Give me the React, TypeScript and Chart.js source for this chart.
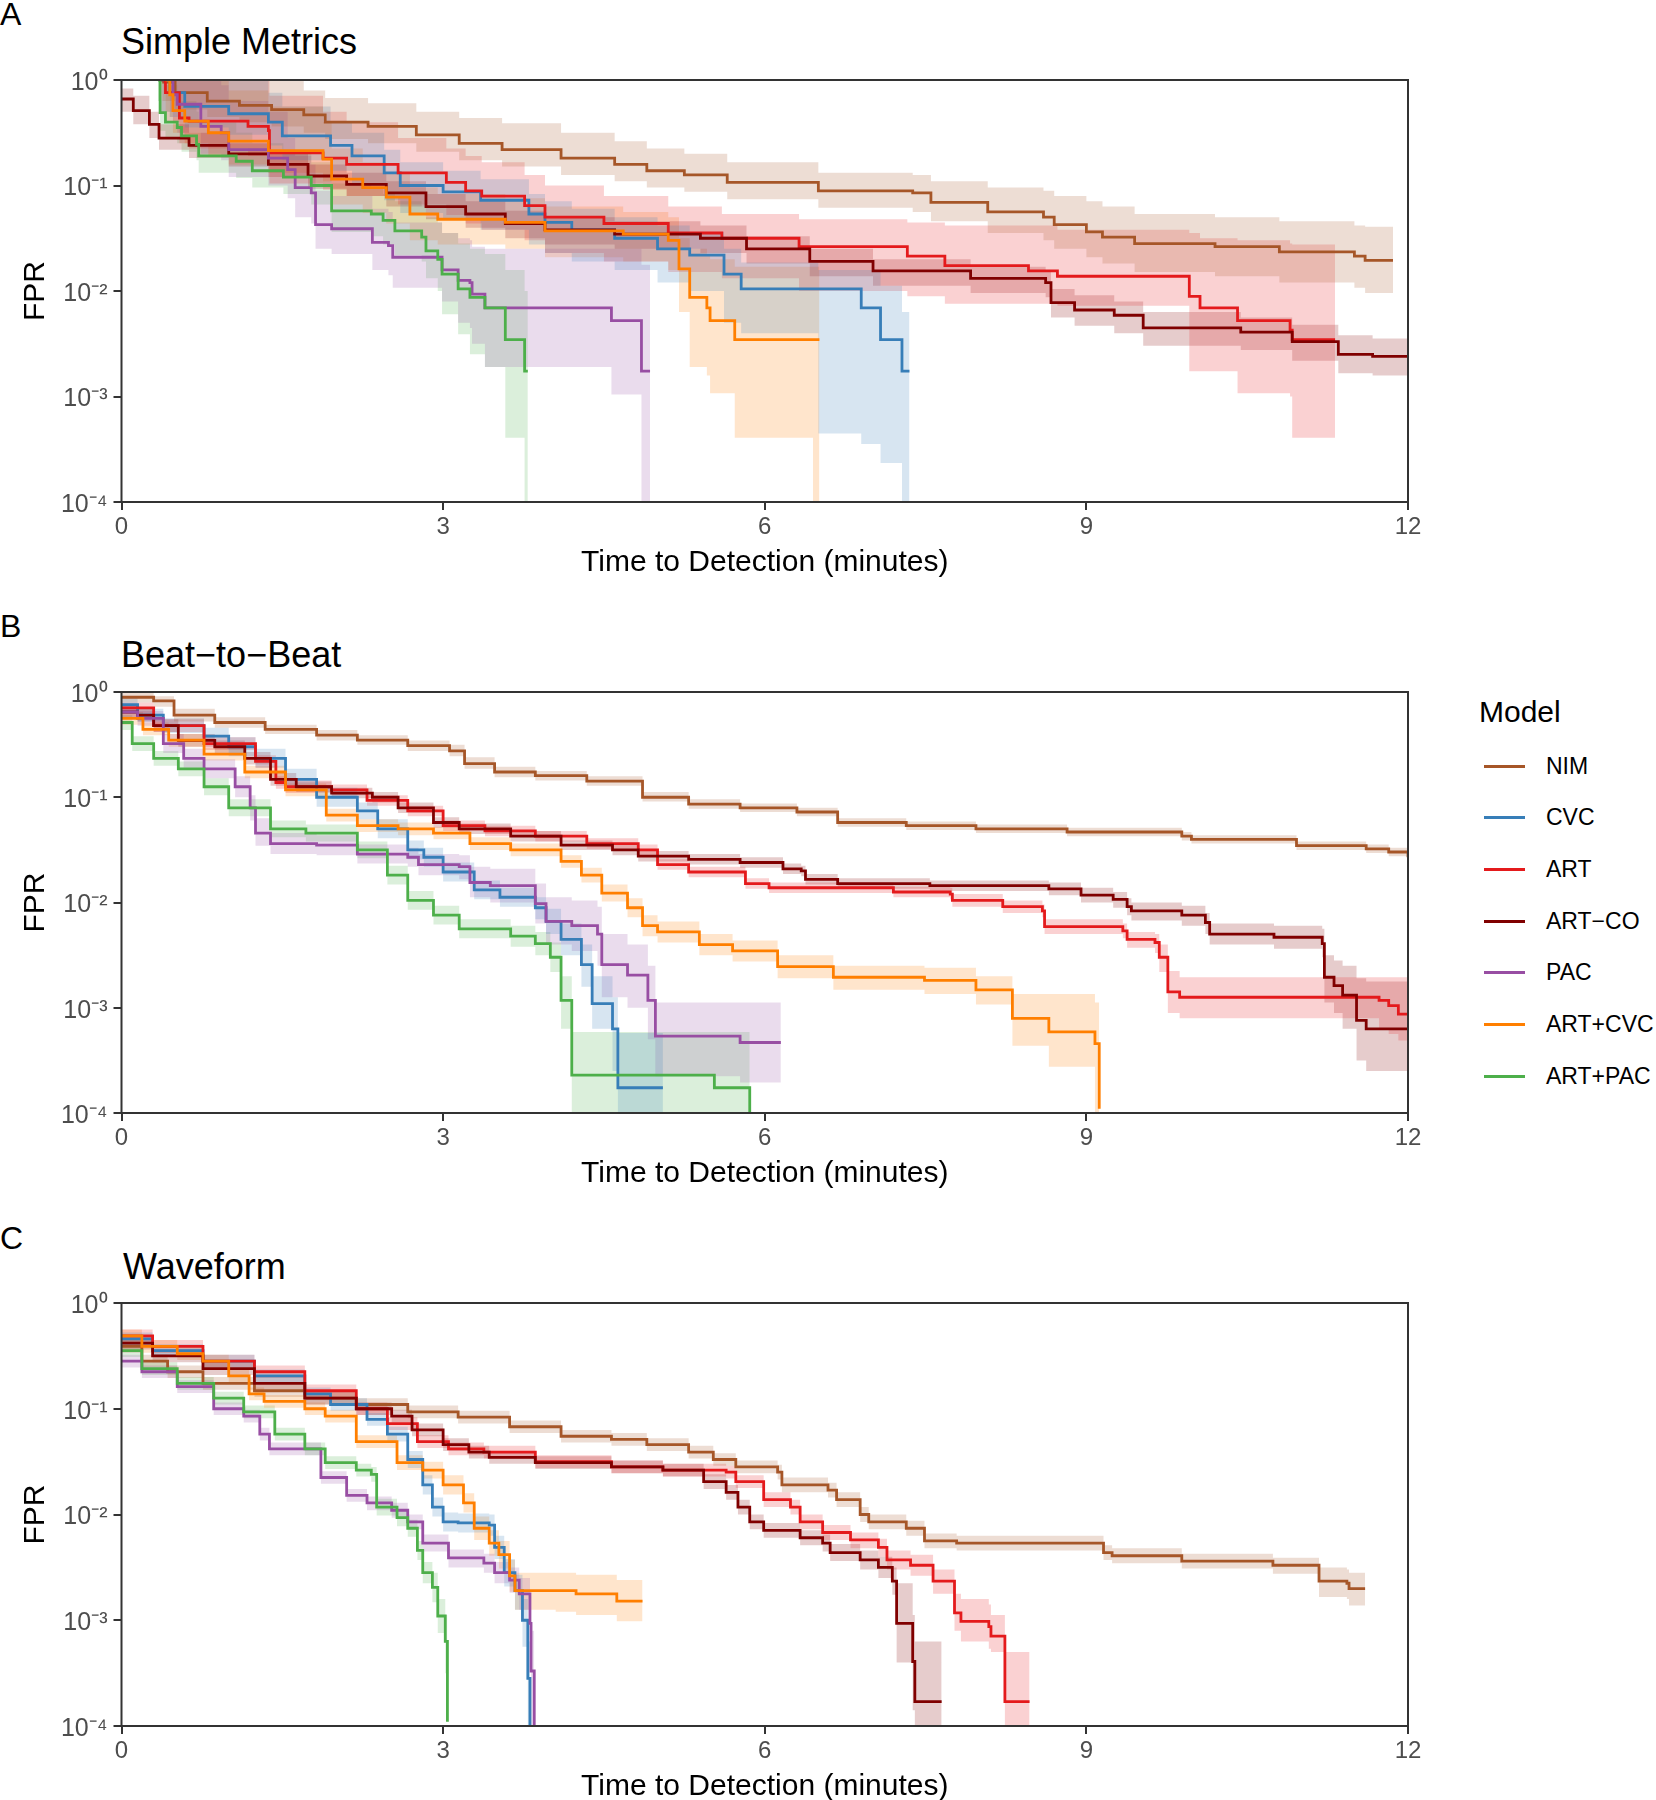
import React, { useEffect, useRef } from 'react';
import { Chart, registerables } from 'chart.js';

Chart.register(...registerables);

const FONT = "'Liberation Sans', Arial, Helvetica, sans-serif";

// Models (legend order) and colours
const MODELS = ['NIM', 'CVC', 'ART', 'ART\u2212CO', 'PAC', 'ART+CVC', 'ART+PAC'];
const COLORS = ['#A65628', '#377EB8', '#E41A1C', '#800000', '#984EA3', '#FF7F00', '#4DAF4A'];

// Axis ticks
const X_TICKS = [0, 3, 6, 9, 12];
const Y_TICKS = [1e-4, 1e-3, 1e-2, 1e-1, 1];
const Y_TICK_LABELS = ['10\u207B\u2074', '10\u207B\u00B3', '10\u207B\u00B2', '10\u207B\u00B9', '10\u2070'];

// Each row: [time (min), log10 FPR, log10 upper CI, log10 lower CI]
type Row = [number, number, number, number];

// ---------- Panel A : Simple Metrics ----------
const A_NIM: Row[] = [[0.38,-0.02,0,-0.2],[0.5,-0.12,0,-0.28],[0.8,-0.2,0,-0.35],[1.1,-0.24,0,-0.4],[1.4,-0.28,0,-0.44],[1.7,-0.33,-0.1,-0.5],[1.9,-0.4,-0.17,-0.56],[2.3,-0.44,-0.22,-0.6],[2.75,-0.52,-0.3,-0.68],[3.15,-0.6,-0.36,-0.76],[3.55,-0.66,-0.41,-0.82],[4.1,-0.74,-0.5,-0.9],[4.6,-0.8,-0.58,-0.96],[4.9,-0.86,-0.65,-1.02],[5.25,-0.9,-0.7,-1.06],[5.65,-0.97,-0.78,-1.13],[6.5,-1.05,-0.88,-1.21],[7.38,-1.07,-0.9,-1.25],[7.55,-1.16,-0.96,-1.34],[8.08,-1.25,-1.02,-1.45],[8.6,-1.3,-1.05,-1.52],[8.7,-1.37,-1.1,-1.6],[9.0,-1.44,-1.15,-1.68],[9.15,-1.49,-1.2,-1.74],[9.45,-1.55,-1.27,-1.82],[10.2,-1.58,-1.3,-1.86],[10.8,-1.63,-1.34,-1.92],[11.5,-1.67,-1.38,-1.97],[11.6,-1.71,-1.39,-2.02],[11.86,-1.71,-1.39,-2.02]];
const A_CVC: Row[] = [[0.37,0,0,-0.3],[0.45,-0.12,0,-0.35],[0.59,-0.25,0,-0.45],[1.0,-0.32,0,-0.52],[1.37,-0.4,-0.12,-0.62],[1.5,-0.53,-0.25,-0.76],[1.95,-0.62,-0.4,-0.86],[2.15,-0.72,-0.5,-0.98],[2.45,-0.88,-0.66,-1.14],[2.6,-1.0,-0.78,-1.26],[3.0,-1.06,-0.86,-1.32],[3.35,-1.14,-0.94,-1.42],[3.8,-1.27,-1.08,-1.56],[3.95,-1.35,-1.15,-1.64],[4.2,-1.42,-1.22,-1.72],[4.6,-1.5,-1.3,-1.8],[5.0,-1.6,-1.38,-1.92],[5.3,-1.66,-1.44,-2.0],[5.62,-1.84,-1.6,-2.3],[5.78,-1.98,-1.73,-2.4],[6.5,-1.98,-1.8,-3.35],[6.9,-2.16,-1.8,-3.45],[7.08,-2.46,-1.95,-3.63],[7.28,-2.76,-2.2,-4.5],[7.35,-2.76,-2.2,-4.5]];
const A_ART: Row[] = [[0.37,0,0,-0.3],[0.41,-0.12,0,-0.4],[0.54,-0.36,0,-0.6],[0.63,-0.39,0,-0.65],[1.18,-0.44,0,-0.72],[1.37,-0.48,0,-0.76],[1.38,-0.69,-0.15,-0.98],[1.88,-0.74,-0.3,-1.04],[2.1,-0.8,-0.4,-1.1],[2.58,-0.88,-0.55,-1.18],[3.03,-0.97,-0.65,-1.28],[3.21,-1.05,-0.72,-1.36],[3.36,-1.1,-0.78,-1.42],[3.76,-1.19,-0.9,-1.52],[3.95,-1.3,-1.0,-1.64],[4.5,-1.36,-1.1,-1.72],[5.1,-1.45,-1.2,-1.82],[5.6,-1.5,-1.27,-1.88],[6.32,-1.58,-1.32,-2.0],[7.33,-1.67,-1.35,-2.05],[7.68,-1.76,-1.38,-2.12],[8.46,-1.81,-1.38,-2.12],[8.73,-1.86,-1.42,-2.14],[9.96,-2.05,-1.45,-2.76],[10.06,-2.16,-1.5,-2.76],[10.41,-2.28,-1.52,-2.97],[10.9,-2.37,-1.55,-3.0],[10.92,-2.46,-1.56,-3.39],[11.32,-2.46,-1.56,-3.39]];
const A_ARTCO: Row[] = [[0,-0.18,-0.08,-0.3],[0.11,-0.29,-0.15,-0.42],[0.26,-0.42,-0.3,-0.55],[0.35,-0.55,-0.42,-0.66],[0.63,-0.62,-0.5,-0.74],[1.0,-0.7,-0.6,-0.82],[1.37,-0.8,-0.7,-0.92],[1.74,-0.91,-0.8,-1.03],[2.1,-0.99,-0.88,-1.1],[2.47,-1.07,-0.96,-1.2],[2.84,-1.2,-1.08,-1.32],[3.21,-1.27,-1.15,-1.4],[3.58,-1.36,-1.24,-1.5],[3.95,-1.42,-1.3,-1.56],[4.6,-1.46,-1.34,-1.6],[5.4,-1.5,-1.38,-1.64],[5.83,-1.6,-1.48,-1.74],[6.42,-1.72,-1.6,-1.86],[7.01,-1.81,-1.7,-1.95],[7.92,-1.88,-1.77,-2.02],[8.62,-1.92,-1.8,-2.06],[8.67,-2.11,-1.98,-2.25],[8.89,-2.18,-2.04,-2.33],[9.26,-2.23,-2.1,-2.4],[9.53,-2.35,-2.2,-2.52],[10.44,-2.39,-2.25,-2.56],[10.92,-2.48,-2.32,-2.66],[11.35,-2.6,-2.42,-2.78],[11.67,-2.62,-2.45,-2.8],[12,-2.62,-2.45,-2.8]];
const A_PAC: Row[] = [[0.45,0,0,-0.3],[0.48,-0.14,0,-0.4],[0.52,-0.23,0,-0.5],[0.74,-0.44,0,-0.7],[0.93,-0.5,-0.05,-0.76],[1.0,-0.66,-0.2,-0.92],[1.37,-0.74,-0.3,-1.0],[1.55,-0.85,-0.55,-1.12],[1.62,-1.02,-0.72,-1.3],[1.77,-1.07,-0.8,-1.36],[1.81,-1.37,-1.05,-1.6],[1.96,-1.41,-1.1,-1.65],[2.34,-1.54,-1.22,-1.8],[2.49,-1.57,-1.25,-1.85],[2.53,-1.68,-1.35,-1.97],[2.99,-1.8,-1.45,-2.1],[3.14,-1.9,-1.5,-2.3],[3.25,-1.92,-1.52,-2.35],[3.27,-2.03,-1.58,-2.5],[3.39,-2.16,-1.6,-2.72],[4.57,-2.28,-1.6,-2.98],[4.85,-2.76,-1.75,-4.5],[4.93,-2.76,-1.75,-4.5]];
const A_ARTCVC: Row[] = [[0.41,0,0,-0.3],[0.45,-0.14,0,-0.35],[0.48,-0.29,0,-0.5],[0.59,-0.39,0,-0.6],[0.81,-0.5,0,-0.72],[1.0,-0.58,-0.1,-0.8],[1.37,-0.67,-0.25,-0.88],[1.88,-0.75,-0.4,-0.96],[1.96,-0.94,-0.65,-1.18],[2.25,-1.02,-0.78,-1.26],[2.47,-1.11,-0.88,-1.36],[2.69,-1.27,-1.02,-1.52],[2.95,-1.32,-1.08,-1.56],[3.58,-1.35,-1.12,-1.6],[3.95,-1.43,-1.2,-1.68],[4.68,-1.46,-1.25,-1.72],[5.1,-1.52,-1.3,-1.8],[5.2,-1.79,-1.5,-2.2],[5.3,-2.06,-1.6,-2.72],[5.46,-2.16,-1.65,-2.8],[5.49,-2.28,-1.7,-2.97],[5.72,-2.46,-1.77,-3.39],[6.45,-2.46,-1.77,-4.5],[6.51,-2.46,-1.77,-4.5]];
const A_ARTPAC: Row[] = [[0.34,0,0,-0.2],[0.36,-0.31,0,-0.48],[0.41,-0.4,-0.05,-0.56],[0.52,-0.45,-0.12,-0.6],[0.56,-0.53,-0.2,-0.68],[0.7,-0.61,-0.3,-0.76],[0.72,-0.72,-0.4,-0.88],[1.07,-0.77,-0.5,-0.93],[1.22,-0.86,-0.6,-1.02],[1.51,-0.92,-0.68,-1.08],[1.77,-1.0,-0.78,-1.18],[1.96,-1.24,-0.98,-1.44],[2.33,-1.27,-1.02,-1.48],[2.44,-1.33,-1.08,-1.56],[2.55,-1.43,-1.15,-1.66],[2.8,-1.49,-1.2,-1.72],[2.84,-1.62,-1.3,-1.88],[2.95,-1.7,-1.35,-2.0],[2.99,-1.84,-1.45,-2.22],[3.14,-1.98,-1.55,-2.41],[3.25,-2.06,-1.6,-2.6],[3.39,-2.16,-1.65,-2.72],[3.58,-2.46,-1.8,-3.39],[3.76,-2.76,-2.0,-4.5],[3.79,-2.76,-2.0,-4.5]];

// ---------- Panel B : Beat-to-Beat ----------
const B_NIM: Row[] = [[0,-0.05,-0.01,-0.1],[0.3,-0.085,-0.04,-0.14],[0.49,-0.22,-0.16,-0.28],[0.87,-0.29,-0.24,-0.34],[1.34,-0.355,-0.31,-0.4],[1.82,-0.41,-0.36,-0.46],[2.2,-0.457,-0.41,-0.5],[2.67,-0.51,-0.46,-0.56],[3.06,-0.56,-0.5,-0.61],[3.2,-0.68,-0.62,-0.73],[3.48,-0.76,-0.71,-0.81],[3.86,-0.795,-0.75,-0.84],[4.34,-0.846,-0.8,-0.89],[4.86,-1.0,-0.95,-1.04],[5.29,-1.066,-1.02,-1.11],[5.77,-1.1,-1.06,-1.14],[6.3,-1.14,-1.1,-1.18],[6.68,-1.24,-1.2,-1.28],[7.32,-1.27,-1.23,-1.31],[7.97,-1.3,-1.26,-1.34],[8.82,-1.33,-1.29,-1.37],[9.89,-1.37,-1.33,-1.41],[9.98,-1.4,-1.36,-1.44],[10.96,-1.46,-1.42,-1.5],[11.61,-1.49,-1.45,-1.53],[11.82,-1.52,-1.48,-1.56],[12,-1.57,-1.53,-1.61]];
const B_CVC: Row[] = [[0,-0.12,-0.06,-0.18],[0.15,-0.22,-0.16,-0.28],[0.39,-0.32,-0.25,-0.39],[0.77,-0.42,-0.34,-0.5],[1.0,-0.52,-0.43,-0.61],[1.25,-0.63,-0.54,-0.72],[1.53,-0.83,-0.73,-0.93],[1.82,-1.0,-0.91,-1.09],[2.2,-1.13,-1.05,-1.21],[2.39,-1.3,-1.21,-1.39],[2.67,-1.5,-1.41,-1.59],[2.82,-1.57,-1.48,-1.66],[3.0,-1.71,-1.62,-1.8],[3.29,-1.88,-1.79,-1.97],[3.53,-1.95,-1.86,-2.04],[3.86,-2.05,-1.95,-2.16],[3.96,-2.18,-2.06,-2.3],[4.1,-2.35,-2.2,-2.5],[4.29,-2.59,-2.4,-2.8],[4.39,-2.96,-2.7,-3.2],[4.58,-3.2,-2.9,-3.6],[4.63,-3.76,-3.24,-4.5],[5.05,-3.76,-3.24,-4.5]];
const B_ART: Row[] = [[0,-0.15,-0.1,-0.2],[0.3,-0.32,-0.26,-0.38],[0.77,-0.49,-0.43,-0.55],[1.25,-0.66,-0.6,-0.72],[1.44,-0.86,-0.8,-0.92],[1.53,-0.9,-0.84,-0.96],[1.96,-0.93,-0.88,-0.98],[2.29,-1.03,-0.98,-1.08],[2.67,-1.13,-1.08,-1.18],[3.0,-1.27,-1.22,-1.32],[3.39,-1.32,-1.27,-1.37],[3.86,-1.37,-1.32,-1.42],[4.34,-1.44,-1.39,-1.49],[4.82,-1.5,-1.45,-1.55],[5.0,-1.64,-1.59,-1.69],[5.29,-1.71,-1.66,-1.76],[5.82,-1.82,-1.77,-1.87],[6.04,-1.86,-1.81,-1.91],[7.2,-1.9,-1.85,-1.95],[7.73,-1.92,-1.86,-1.97],[7.75,-1.98,-1.92,-2.04],[8.22,-2.04,-1.98,-2.1],[8.59,-2.08,-2.02,-2.14],[8.61,-2.23,-2.16,-2.3],[9.34,-2.27,-2.2,-2.34],[9.38,-2.35,-2.28,-2.43],[9.64,-2.38,-2.3,-2.48],[9.68,-2.52,-2.4,-2.66],[9.76,-2.85,-2.65,-3.05],[9.87,-2.9,-2.71,-3.1],[11.73,-2.93,-2.71,-3.2],[11.82,-2.98,-2.71,-3.25],[11.91,-3.06,-2.71,-3.31],[12,-3.06,-2.71,-3.31]];
const B_ARTCO: Row[] = [[0,-0.19,-0.13,-0.25],[0.15,-0.22,-0.16,-0.28],[0.3,-0.32,-0.26,-0.38],[0.53,-0.46,-0.4,-0.52],[0.87,-0.52,-0.46,-0.58],[1.15,-0.63,-0.57,-0.69],[1.39,-0.83,-0.77,-0.89],[1.63,-0.9,-0.85,-0.95],[1.96,-0.96,-0.91,-1.01],[2.34,-1.0,-0.95,-1.05],[2.58,-1.1,-1.05,-1.15],[2.91,-1.24,-1.19,-1.29],[3.15,-1.3,-1.25,-1.35],[3.63,-1.37,-1.32,-1.42],[4.1,-1.455,-1.41,-1.5],[4.58,-1.5,-1.45,-1.55],[4.82,-1.56,-1.51,-1.61],[5.29,-1.59,-1.54,-1.64],[5.77,-1.62,-1.57,-1.67],[6.17,-1.68,-1.63,-1.73],[6.34,-1.7,-1.65,-1.75],[6.38,-1.78,-1.73,-1.83],[6.68,-1.82,-1.77,-1.87],[7.54,-1.84,-1.79,-1.89],[8.65,-1.87,-1.81,-1.93],[8.95,-1.93,-1.86,-2.0],[9.25,-1.97,-1.9,-2.05],[9.38,-2.04,-1.96,-2.12],[9.42,-2.08,-2.0,-2.17],[9.89,-2.12,-2.03,-2.22],[10.11,-2.19,-2.1,-2.3],[10.15,-2.3,-2.2,-2.4],[10.75,-2.33,-2.22,-2.44],[11.2,-2.39,-2.25,-2.52],[11.22,-2.71,-2.5,-2.95],[11.31,-2.79,-2.55,-3.05],[11.39,-2.88,-2.6,-3.2],[11.52,-3.12,-2.72,-3.5],[11.61,-3.2,-2.75,-3.6],[12,-3.2,-2.75,-3.6]];
const B_PAC: Row[] = [[0,-0.19,-0.13,-0.25],[0.15,-0.25,-0.18,-0.32],[0.39,-0.49,-0.4,-0.58],[0.58,-0.63,-0.54,-0.72],[0.77,-0.73,-0.64,-0.82],[1.06,-0.9,-0.8,-1.0],[1.2,-1.1,-0.98,-1.22],[1.25,-1.34,-1.2,-1.46],[1.39,-1.44,-1.34,-1.54],[1.82,-1.455,-1.36,-1.55],[2.2,-1.54,-1.45,-1.63],[2.67,-1.57,-1.48,-1.66],[2.77,-1.64,-1.54,-1.74],[3.15,-1.66,-1.55,-1.78],[3.25,-1.81,-1.66,-1.95],[3.44,-1.84,-1.68,-2.0],[3.86,-2.01,-1.82,-2.2],[3.96,-2.18,-1.95,-2.4],[4.2,-2.22,-1.98,-2.46],[4.44,-2.3,-2.04,-2.6],[4.48,-2.59,-2.3,-2.9],[4.72,-2.69,-2.4,-3.0],[4.91,-2.93,-2.6,-3.3],[4.98,-3.27,-2.95,-3.65],[5.77,-3.33,-2.95,-3.71],[6.15,-3.33,-2.95,-3.71]];
const B_ARTCVC: Row[] = [[0,-0.25,-0.19,-0.31],[0.2,-0.355,-0.29,-0.41],[0.44,-0.457,-0.4,-0.52],[0.77,-0.59,-0.53,-0.65],[1.15,-0.76,-0.7,-0.82],[1.53,-0.93,-0.87,-0.99],[1.91,-1.17,-1.11,-1.23],[2.2,-1.27,-1.21,-1.33],[2.58,-1.3,-1.24,-1.36],[2.91,-1.34,-1.28,-1.4],[3.25,-1.44,-1.38,-1.5],[3.63,-1.5,-1.44,-1.56],[4.1,-1.61,-1.55,-1.67],[4.29,-1.74,-1.67,-1.81],[4.48,-1.91,-1.83,-1.99],[4.72,-2.05,-1.96,-2.14],[4.86,-2.22,-2.12,-2.32],[5.0,-2.28,-2.18,-2.38],[5.39,-2.4,-2.3,-2.5],[5.7,-2.46,-2.36,-2.56],[6.12,-2.61,-2.5,-2.72],[6.64,-2.71,-2.6,-2.83],[7.49,-2.74,-2.62,-2.87],[7.97,-2.83,-2.7,-2.97],[8.31,-3.1,-2.87,-3.36],[8.65,-3.23,-2.87,-3.56],[9.08,-3.34,-2.95,-4.5],[9.12,-3.96,-3.0,-4.5]];
const B_ARTPAC: Row[] = [[0,-0.29,-0.22,-0.36],[0.1,-0.49,-0.42,-0.56],[0.3,-0.63,-0.56,-0.7],[0.53,-0.73,-0.66,-0.8],[0.77,-0.9,-0.82,-0.98],[1.0,-1.1,-1.02,-1.18],[1.39,-1.3,-1.22,-1.38],[1.72,-1.34,-1.26,-1.42],[2.2,-1.5,-1.42,-1.58],[2.48,-1.74,-1.65,-1.83],[2.67,-1.98,-1.89,-2.07],[2.91,-2.12,-2.03,-2.21],[3.15,-2.25,-2.16,-2.34],[3.63,-2.32,-2.22,-2.42],[3.86,-2.39,-2.28,-2.5],[4.0,-2.52,-2.38,-2.66],[4.1,-2.93,-2.7,-3.2],[4.2,-3.64,-3.23,-4.5],[5.53,-3.76,-3.23,-4.5],[5.82,-3.76,-3.23,-4.5],[5.86,-4.5,-4.5,-4.5]];

// ---------- Panel C : Waveform ----------
const C_NIM: Row[] = [[0,-0.41,-0.35,-0.47],[0.19,-0.55,-0.49,-0.61],[0.43,-0.65,-0.59,-0.71],[0.76,-0.76,-0.7,-0.82],[1.24,-0.83,-0.77,-0.89],[1.71,-0.9,-0.84,-0.96],[2.19,-0.96,-0.9,-1.02],[2.67,-1.03,-0.97,-1.09],[3.14,-1.08,-1.02,-1.14],[3.62,-1.17,-1.11,-1.23],[4.1,-1.26,-1.2,-1.32],[4.57,-1.29,-1.23,-1.35],[4.9,-1.34,-1.28,-1.4],[5.29,-1.41,-1.35,-1.47],[5.52,-1.48,-1.42,-1.54],[5.73,-1.55,-1.49,-1.61],[6.12,-1.6,-1.53,-1.67],[6.16,-1.72,-1.65,-1.79],[6.59,-1.77,-1.7,-1.84],[6.67,-1.86,-1.79,-1.93],[6.89,-2.0,-1.93,-2.07],[6.97,-2.07,-2.0,-2.14],[7.32,-2.13,-2.06,-2.2],[7.49,-2.25,-2.18,-2.32],[7.79,-2.27,-2.2,-2.34],[9.03,-2.27,-2.2,-2.34],[9.16,-2.36,-2.29,-2.43],[9.24,-2.39,-2.32,-2.46],[9.89,-2.44,-2.37,-2.51],[10.74,-2.48,-2.41,-2.56],[11.17,-2.63,-2.5,-2.78],[11.43,-2.65,-2.52,-2.8],[11.45,-2.7,-2.55,-2.86],[11.6,-2.7,-2.55,-2.86]];
const C_CVC: Row[] = [[0,-0.34,-0.28,-0.4],[0.29,-0.45,-0.39,-0.51],[0.76,-0.55,-0.49,-0.61],[1.24,-0.69,-0.63,-0.75],[1.71,-0.86,-0.8,-0.92],[1.95,-0.96,-0.9,-1.02],[2.29,-1.1,-1.04,-1.16],[2.48,-1.24,-1.17,-1.31],[2.67,-1.48,-1.4,-1.56],[2.81,-1.72,-1.63,-1.81],[2.9,-1.93,-1.84,-2.02],[3.0,-2.07,-1.98,-2.16],[3.14,-2.08,-1.99,-2.17],[3.43,-2.1,-2.0,-2.2],[3.48,-2.31,-2.2,-2.42],[3.57,-2.55,-2.42,-2.68],[3.67,-2.72,-2.57,-2.9],[3.74,-3.0,-2.8,-3.25],[3.79,-3.55,-3.2,-4.5],[3.81,-4.5,-3.3,-4.5]];
const C_ART: Row[] = [[0,-0.31,-0.25,-0.37],[0.29,-0.41,-0.35,-0.47],[0.76,-0.55,-0.49,-0.61],[1.24,-0.65,-0.59,-0.71],[1.71,-0.83,-0.77,-0.89],[2.19,-1.0,-0.94,-1.06],[2.48,-1.14,-1.08,-1.2],[2.76,-1.31,-1.25,-1.37],[3.05,-1.38,-1.32,-1.44],[3.38,-1.41,-1.35,-1.47],[3.86,-1.5,-1.44,-1.56],[4.57,-1.55,-1.49,-1.61],[5.05,-1.58,-1.52,-1.64],[5.64,-1.6,-1.54,-1.66],[5.73,-1.69,-1.63,-1.75],[5.99,-1.86,-1.79,-1.93],[6.24,-1.93,-1.86,-2.0],[6.33,-2.07,-2.0,-2.14],[6.54,-2.17,-2.1,-2.24],[6.8,-2.24,-2.17,-2.32],[7.06,-2.31,-2.23,-2.4],[7.14,-2.43,-2.34,-2.52],[7.36,-2.48,-2.38,-2.58],[7.57,-2.63,-2.52,-2.75],[7.77,-2.93,-2.75,-3.1],[7.83,-3.01,-2.8,-3.2],[8.09,-3.06,-2.85,-3.27],[8.11,-3.15,-2.95,-3.3],[8.24,-3.77,-3.3,-4.5],[8.47,-3.77,-3.3,-4.5]];
const C_ARTCO: Row[] = [[0,-0.38,-0.32,-0.44],[0.29,-0.5,-0.44,-0.56],[0.76,-0.62,-0.56,-0.68],[1.24,-0.76,-0.7,-0.82],[1.71,-0.9,-0.84,-0.96],[2.19,-1.0,-0.94,-1.06],[2.52,-1.07,-1.01,-1.13],[2.71,-1.2,-1.14,-1.26],[3.0,-1.34,-1.28,-1.4],[3.24,-1.41,-1.35,-1.47],[3.43,-1.46,-1.4,-1.52],[3.86,-1.51,-1.45,-1.57],[4.57,-1.55,-1.49,-1.61],[5.05,-1.58,-1.52,-1.64],[5.43,-1.69,-1.62,-1.76],[5.64,-1.79,-1.72,-1.86],[5.75,-1.93,-1.86,-2.0],[5.86,-2.07,-2.0,-2.14],[5.99,-2.15,-2.08,-2.22],[6.33,-2.22,-2.15,-2.29],[6.54,-2.27,-2.19,-2.35],[6.61,-2.36,-2.28,-2.44],[6.89,-2.43,-2.34,-2.52],[7.06,-2.5,-2.4,-2.6],[7.19,-2.63,-2.5,-2.76],[7.23,-3.03,-2.65,-3.4],[7.38,-3.39,-2.95,-3.85],[7.4,-3.77,-3.2,-4.5],[7.65,-3.77,-3.2,-4.5]];
const C_PAC: Row[] = [[0,-0.55,-0.49,-0.61],[0.19,-0.65,-0.59,-0.71],[0.52,-0.79,-0.73,-0.85],[0.86,-1.0,-0.94,-1.06],[1.14,-1.07,-1.01,-1.13],[1.29,-1.24,-1.18,-1.3],[1.38,-1.38,-1.32,-1.44],[1.67,-1.38,-1.32,-1.44],[1.86,-1.65,-1.59,-1.71],[2.1,-1.82,-1.76,-1.88],[2.29,-1.89,-1.83,-1.96],[2.52,-1.96,-1.89,-2.03],[2.67,-2.07,-2.0,-2.14],[2.81,-2.27,-2.19,-2.35],[3.05,-2.41,-2.33,-2.5],[3.38,-2.46,-2.37,-2.55],[3.48,-2.55,-2.45,-2.65],[3.62,-2.62,-2.5,-2.74],[3.71,-2.75,-2.6,-2.9],[3.81,-3.03,-2.8,-3.3],[3.82,-3.48,-3.1,-4.5],[3.85,-4.5,-3.3,-4.5]];
const C_ARTCVC: Row[] = [[0,-0.31,-0.25,-0.37],[0.19,-0.41,-0.35,-0.47],[0.52,-0.48,-0.42,-0.54],[0.76,-0.55,-0.49,-0.61],[1.0,-0.69,-0.63,-0.75],[1.19,-0.86,-0.8,-0.92],[1.33,-0.93,-0.87,-0.99],[1.71,-1.0,-0.94,-1.06],[1.9,-1.07,-1.01,-1.13],[2.19,-1.31,-1.25,-1.37],[2.57,-1.51,-1.44,-1.58],[2.81,-1.58,-1.5,-1.66],[3.0,-1.72,-1.63,-1.81],[3.19,-1.89,-1.8,-1.98],[3.29,-2.13,-2.02,-2.24],[3.43,-2.27,-2.15,-2.39],[3.52,-2.38,-2.25,-2.51],[3.62,-2.58,-2.43,-2.73],[3.67,-2.72,-2.55,-2.9],[4.05,-2.72,-2.55,-2.92],[4.24,-2.75,-2.57,-2.95],[4.62,-2.82,-2.62,-3.01],[4.86,-2.82,-2.62,-3.01]];
const C_ARTPAC: Row[] = [[0,-0.45,-0.39,-0.51],[0.19,-0.62,-0.56,-0.68],[0.52,-0.76,-0.7,-0.82],[0.86,-0.9,-0.84,-0.96],[1.14,-1.03,-0.97,-1.09],[1.43,-1.24,-1.18,-1.3],[1.71,-1.38,-1.32,-1.44],[1.9,-1.51,-1.45,-1.57],[2.19,-1.58,-1.52,-1.64],[2.33,-1.62,-1.55,-1.69],[2.38,-1.93,-1.85,-2.01],[2.57,-2.03,-1.95,-2.11],[2.67,-2.13,-2.05,-2.21],[2.76,-2.34,-2.25,-2.43],[2.81,-2.55,-2.45,-2.65],[2.9,-2.69,-2.55,-2.83],[2.95,-2.96,-2.8,-3.12],[3.02,-3.2,-2.95,-3.5],[3.04,-3.96,-3.5,-4.5]];

const PANEL_A = [A_NIM, A_CVC, A_ART, A_ARTCO, A_PAC, A_ARTCVC, A_ARTPAC];
const PANEL_B = [B_NIM, B_CVC, B_ART, B_ARTCO, B_PAC, B_ARTCVC, B_ARTPAC];
const PANEL_C = [C_NIM, C_CVC, C_ART, C_ARTCO, C_PAC, C_ARTCVC, C_ARTPAC];

const X_TITLE = 'Time to Detection (minutes)';
const Y_TITLE = 'FPR';

function rgba(hex: string, a: number) {
  const n = parseInt(hex.slice(1), 16);
  return `rgba(${(n >> 16) & 255},${(n >> 8) & 255},${n & 255},${a})`;
}

function pts(rows: Row[], k: number) {
  return rows.map((r) => ({ x: r[0], y: Math.pow(10, r[k]) }));
}

const framePlugin = {
  id: 'frame',
  afterDraw(chart: any) {
    const { ctx, chartArea } = chart;
    const { left, top, right, bottom } = chartArea;
    ctx.save();
    ctx.strokeStyle = '#333333';
    ctx.lineWidth = 2;
    ctx.strokeRect(left, top, right - left, bottom - top);
    ctx.restore();
  },
};

const PAD_TOP = 20;
const X_AXIS_H = 79;
const Y_AXIS_W = 121.5;
const CANVAS_W = 1440;

function Panel({ series, canvasTop, plotH }: { series: Row[][]; canvasTop: number; plotH: number }) {
  const ref = useRef<HTMLCanvasElement>(null);
  const h = PAD_TOP + plotH + X_AXIS_H;
  useEffect(() => {
    const datasets: any[] = [];
    series.forEach((s, i) => {
      datasets.push({ data: pts(s, 3), borderWidth: 0, pointRadius: 0, stepped: 'before', fill: false, order: 300 });
      datasets.push({ data: pts(s, 2), borderWidth: 0, pointRadius: 0, stepped: 'before', fill: '-1', backgroundColor: rgba(COLORS[i], 0.2), order: 300 });
    });
    series.forEach((s, i) => {
      datasets.push({ label: MODELS[i], data: pts(s, 1), borderColor: COLORS[i], borderWidth: 2.8, pointRadius: 0, stepped: 'before', fill: false, order: 100 - i });
    });
    const gridCfg = { drawOnChartArea: false, drawTicks: true, tickLength: 8, color: '#333333', lineWidth: 2 };
    const chart = new Chart(ref.current as HTMLCanvasElement, {
      type: 'line',
      data: { datasets },
      plugins: [framePlugin],
      options: {
        responsive: false,
        animation: false,
        events: [],
        layout: { padding: { top: PAD_TOP, right: CANVAS_W - 1408, left: 0, bottom: 0 } },
        elements: { line: { tension: 0 }, point: { radius: 0 } },
        plugins: {
          legend: { display: false },
          tooltip: { enabled: false },
          filler: { drawTime: 'beforeDatasetsDraw' },
        } as any,
        scales: {
          x: {
            type: 'linear',
            min: 0,
            max: 12,
            afterBuildTicks: (axis: any) => { axis.ticks = X_TICKS.map((v) => ({ value: v })); },
            ticks: { font: { family: FONT, size: 24 }, color: '#4D4D4D', padding: 3, maxRotation: 0 },
            grid: gridCfg,
            border: { display: false },
            title: { display: true, text: X_TITLE, font: { family: FONT, size: 30 }, color: '#000000', padding: 0 },
            afterFit: (s: any) => { s.height = X_AXIS_H; },
          },
          y: {
            type: 'logarithmic',
            min: 1e-4,
            max: 1,
            afterBuildTicks: (axis: any) => { axis.ticks = Y_TICKS.map((v) => ({ value: v })); },
            ticks: {
              font: { family: FONT, size: 25 },
              color: '#4D4D4D',
              padding: 6,
              labelOffset: 3,
              callback: (v: any) => {
                const i = Y_TICKS.findIndex((t) => Math.abs(Math.log10(t) - Math.log10(Number(v))) < 1e-6);
                return i >= 0 ? Y_TICK_LABELS[i] : '';
              },
            },
            grid: gridCfg,
            border: { display: false },
            title: { display: true, text: Y_TITLE, font: { family: FONT, size: 30 }, color: '#000000', padding: { top: 18, bottom: 0 } },
            afterFit: (s: any) => { s.width = Y_AXIS_W; },
          },
        },
      } as any,
    });
    return () => chart.destroy();
  }, []);
  return (
    <canvas
      ref={ref}
      width={CANVAS_W}
      height={h}
      style={{ position: 'absolute', left: 0, top: canvasTop, width: CANVAS_W, height: h }}
    />
  );
}

const txt = (extra: React.CSSProperties): React.CSSProperties => ({
  position: 'absolute',
  fontFamily: FONT,
  color: '#000',
  whiteSpace: 'nowrap',
  ...extra,
});

const LEGEND_Y = [766, 817.5, 869, 921, 972.5, 1024, 1076];

export default function App() {
  return (
    <div style={{ position: 'absolute', left: 0, top: 0, width: 1656, height: 1800, background: '#fff', overflow: 'hidden' }}>
      <div style={txt({ left: 0, top: -2, fontSize: 32, lineHeight: '32px' })}>A</div>
      <div style={txt({ left: 121, top: 24, fontSize: 36, lineHeight: '36px' })}>Simple Metrics</div>
      <div style={txt({ left: 0, top: 610, fontSize: 32, lineHeight: '32px' })}>B</div>
      <div style={txt({ left: 121, top: 637, fontSize: 36, lineHeight: '36px' })}>Beat{'\u2212'}to{'\u2212'}Beat</div>
      <div style={txt({ left: 123, top: 1249, fontSize: 36, lineHeight: '36px' })}>Waveform</div>
      <div style={txt({ left: 0, top: 1222, fontSize: 32, lineHeight: '32px' })}>C</div>

      <Panel series={PANEL_A} canvasTop={79 - PAD_TOP} plotH={423} />
      <Panel series={PANEL_B} canvasTop={691 - PAD_TOP} plotH={422} />
      <Panel series={PANEL_C} canvasTop={1302 - PAD_TOP} plotH={424} />

      <div style={txt({ left: 1479, top: 697, fontSize: 30, lineHeight: '30px' })}>Model</div>
      {MODELS.map((m, i) => (
        <React.Fragment key={m}>
          <div style={{ position: 'absolute', left: 1484, top: LEGEND_Y[i] - 1.5, width: 41, height: 3, background: COLORS[i] }} />
          <div style={txt({ left: 1546, top: LEGEND_Y[i] - 11.5, fontSize: 23, lineHeight: '23px' })}>{m}</div>
        </React.Fragment>
      ))}
    </div>
  );
}
